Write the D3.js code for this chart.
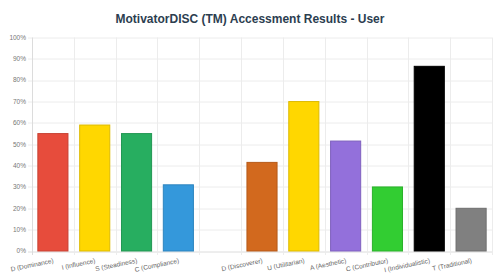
<!DOCTYPE html>
<html>
<head>
<meta charset="utf-8">
<script src="https://cdn.jsdelivr.net/npm/d3@7"></script>
<style>
  body { margin: 0; background: #fff; }
  svg { display: block; font-family: "Liberation Sans", Arial, sans-serif; }
</style>
</head>
<body>
<div id="chart"></div>
<script>
const categories = ["D (Dominance)", "I (Influence)", "S (Steadiness)", "C (Compliance)", "",
  "D (Discoverer)", "U (Utilitarian)", "A (Aesthetic)", "C (Contributor)", "I (Individualistic)", "T (Traditional)"]
const values = [55, 59, 55, 31, null, 41.5, 70, 51.5, 30, 86.5, 20]
const colors = ["#e74c3c", "#ffd700", "#27ae60", "#3498db", "#ffffff",
  "#d2691e", "#ffd700", "#9370db", "#32cd32", "#000000", "#808080"]
const yTicks = d3.range(0, 101, 10)

const W = 500, H = 274
const margin = {top: 37.5, right: 8, bottom: 23, left: 32}
const width = W - margin.left - margin.right,
      height = H - margin.top - margin.bottom

const svg = d3.select("#chart")
  .append("svg")
    .attr("width", W)
    .attr("height", H)

svg.append("text")
  .attr("x", W / 2)
  .attr("y", 23)
  .attr("text-anchor", "middle")
  .style("font-size", "12px")
  .style("font-weight", "bold")
  .style("fill", "#2c3e50")
  .text("MotivatorDISC (TM) Accessment Results - User")

const g = svg.append("g")
  .attr("transform", "translate(" + margin.left + "," + margin.top + ")")

const x = d3.scaleBand().domain(d3.range(categories.length)).range([0, width])
const y = d3.scaleLinear().domain([0, 100]).range([height, 0])

// horizontal grid
g.selectAll(null)
  .data(yTicks)
  .enter()
  .append("line")
    .attr("x1", -4)
    .attr("x2", width)
    .attr("y1", d => Math.round(y(d)) + 0.5)
    .attr("y2", d => Math.round(y(d)) + 0.5)
    .style("stroke", d => d == 0 ? "#dcdcdc" : "#ececec")

// vertical grid
g.selectAll(null)
  .data(d3.range(categories.length + 1))
  .enter()
  .append("line")
    .attr("x1", d => Math.round(d * x.step()) + 0.5)
    .attr("x2", d => Math.round(d * x.step()) + 0.5)
    .attr("y1", 0)
    .attr("y2", height + 4)
    .style("stroke", d => d == 0 ? "#dcdcdc" : "#ececec")

// y labels
g.selectAll(null)
  .data(yTicks)
  .enter()
  .append("text")
    .attr("x", -6)
    .attr("y", d => y(d))
    .attr("dy", "0.35em")
    .attr("text-anchor", "end")
    .style("font-size", "6.5px")
    .style("fill", "#777")
    .text(d => d + "%")

// bars
const bw = x.step() * 0.72
g.selectAll(null)
  .data(values.map((v, i) => ({v: v, i: i})).filter(d => d.v != null))
  .enter()
  .append("rect")
    .attr("x", d => x(d.i) + (x.step() - bw) / 2)
    .attr("y", d => y(d.v))
    .attr("width", bw)
    .attr("height", d => y(0) - y(d.v))
    .style("fill", d => colors[d.i])
    .style("stroke", d => d3.color(colors[d.i]).darker(0.4))
    .style("stroke-width", 1)

// x labels
g.selectAll(null)
  .data(categories.map((c, i) => ({c: c, i: i})))
  .enter()
  .append("text")
    .attr("transform", d => "translate(" + (x(d.i) + x.step() / 2 + 1) + "," + (height + 11.5) + ") rotate(-12)")
    .attr("text-anchor", "end")
    .style("font-size", "6.5px")
    .style("fill", "#666")
    .text(d => d.c)
</script>
</body>
</html>
